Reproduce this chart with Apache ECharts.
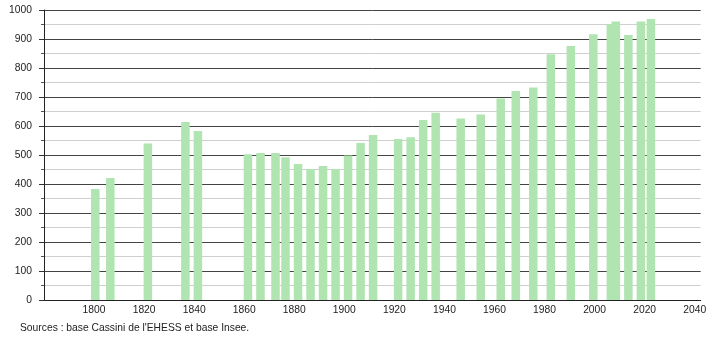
<!DOCTYPE html>
<html>
<head>
<meta charset="utf-8">
<script src="https://cdn.jsdelivr.net/npm/echarts@6/dist/echarts.min.js"></script>
<style>
html,body{margin:0;padding:0;background:#fff;}
#chart{width:710px;height:340px;}
</style>
</head>
<body>
<div id="chart"></div>
<script>
var years = [1800,1806,1821,1836,1841,1861,1866,1872,1876,1881,1886,1891,1896,1901,1906,1911,1921,1926,1931,1936,1946,1954,1962,1968,1975,1982,1990,1999,2006,2008,2013,2018,2022];
var population = [383,421,540,614,583,503,507,507,492,469,452,462,452,498,541,569,555,561,621,646,626,640,695,721,733,847,876,916,951,960,914,960,969];
var yearTicks = [1800,1820,1840,1860,1880,1900,1920,1940,1960,1980,2000,2020,2040];
var sourceText = "Sources : base Cassini de l'EHESS et base Insee.";

var data = years.map(function(y, i){ return [y, population[i]]; });
var FONT = 'Liberation Sans, Arial, sans-serif';
var FS = 10.3;

var chart = echarts.init(document.getElementById('chart'), null, {renderer:'canvas'});
chart.setOption({
  animation: false,
  backgroundColor: '#ffffff',
  grid: {left: 44, right: 9.3, top: 10, bottom: 40, containLabel: false},
  xAxis: [{
    type: 'value',
    min: 1780, max: 2042.4, interval: 20,
    axisLine: {show: true, lineStyle: {color: '#222', width: 1}},
    axisTick: {show: false},
    splitLine: {show: false},
    axisLabel: {
      margin: 5, fontSize: FS, color: '#222', fontFamily: FONT,
      formatter: function(v){ return yearTicks.indexOf(v) >= 0 ? String(v) : ''; }
    }
  }, {
    type: 'value',
    min: 1779.5, max: 2041.9,
    show: false
  }],
  yAxis: {
    type: 'value',
    min: 0, max: 1000, interval: 100,
    axisLine: {show: true, lineStyle: {color: '#222', width: 1}},
    axisTick: {show: true, length: 5, lineStyle: {color: '#333'}},
    minorTick: {show: true, splitNumber: 2, length: 3, lineStyle: {color: '#555'}},
    splitLine: {show: true, lineStyle: {color: '#444', width: 1}},
    minorSplitLine: {show: true, lineStyle: {color: '#cfcfcf', width: 1}},
    axisLabel: {
      margin: 12, fontSize: FS, color: '#222', fontFamily: FONT,
      formatter: function(v){ return String(v); }
    }
  },
  series: [{
    type: 'bar',
    xAxisIndex: 1,
    data: data,
    barWidth: 8.5,
    itemStyle: {color: '#b0e4b0'},
    silent: true
  }],
  graphic: [{
    type: 'text',
    left: 20, top: 323,
    style: {text: sourceText, fontSize: FS, fill: '#222', fontFamily: FONT}
  }]
});
</script>
</body>
</html>
